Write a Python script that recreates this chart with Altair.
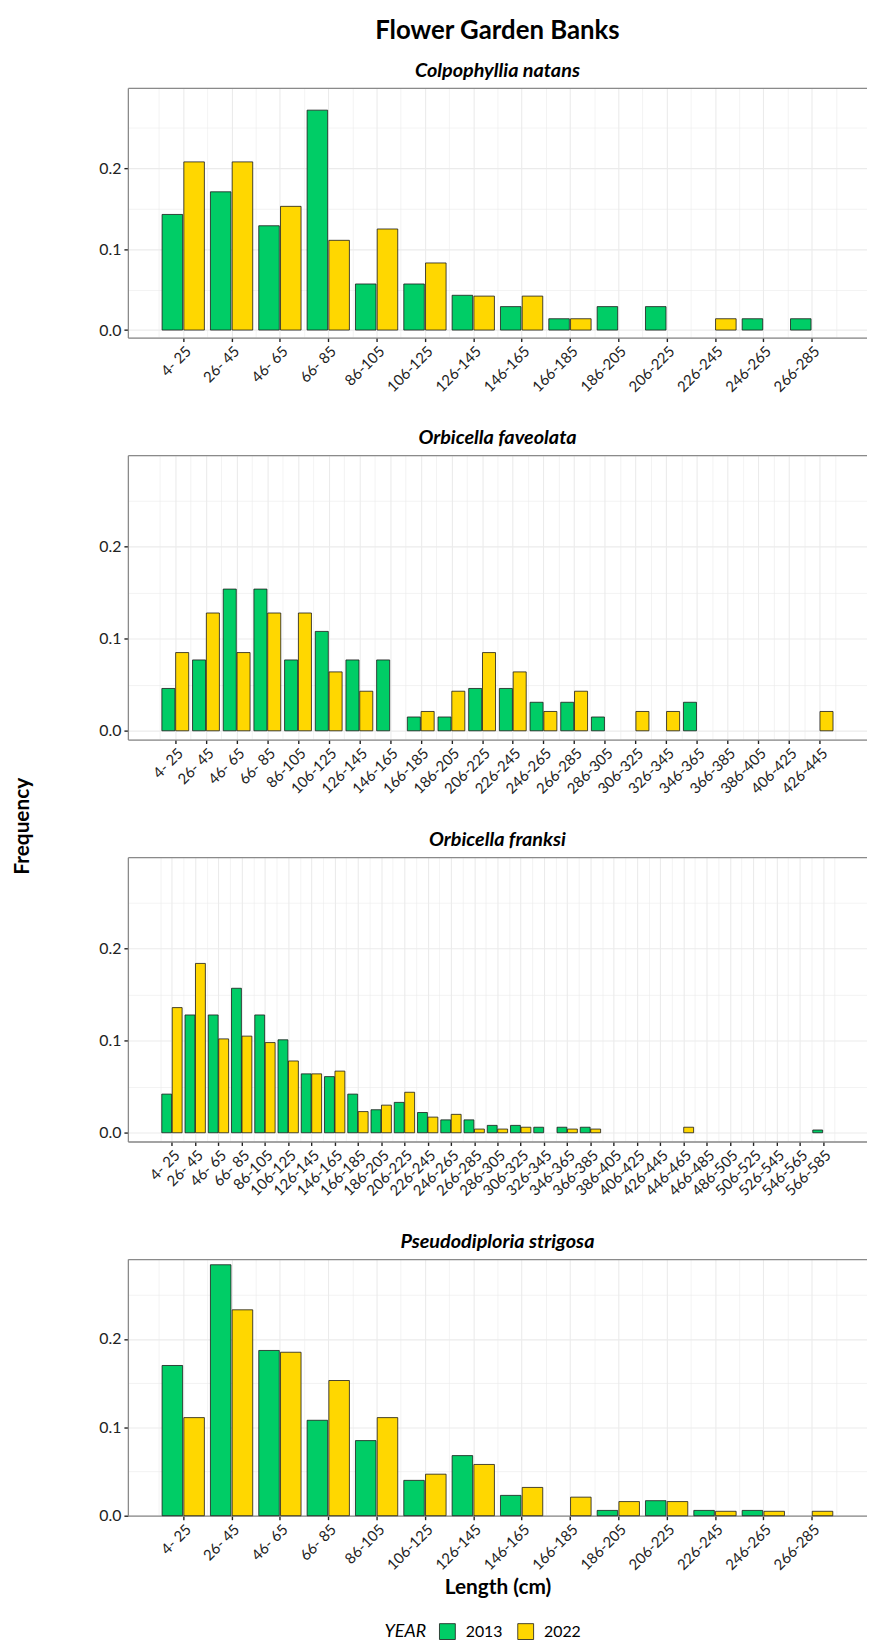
import altair as alt
import pandas as pd

FONT = "Lato"
GREEN = "#00CD66"
GOLD = "#FFD700"
BORDER = "#8a8a8a"
GRID = "#ebebeb"

main_title = "Flower Garden Banks"
species = ["Colpophyllia natans", "Orbicella faveolata", "Orbicella franksi", "Pseudodiploria strigosa"]
years = ["2013", "2022"]

size_classes = ["4- 25", "26- 45", "46- 65", "66- 85", "86-105", "106-125", "126-145", "146-165",
                "166-185", "186-205", "206-225", "226-245", "246-265", "266-285", "286-305", "306-325",
                "326-345", "346-365", "366-385", "386-405", "406-425", "426-445", "446-465", "466-485",
                "486-505", "506-525", "526-545", "546-565", "566-585"]

# Colpophyllia natans (14 classes)
cn_2013 = [0.143, 0.171, 0.129, 0.272, 0.057, 0.057, 0.043, 0.029, 0.014, 0.029, 0.029, 0.0, 0.014, 0.014]
cn_2022 = [0.208, 0.208, 0.153, 0.111, 0.125, 0.083, 0.042, 0.042, 0.014, 0.0, 0.0, 0.014, 0.0, 0.0]
# Orbicella faveolata (22 classes)
of_2013 = [0.046, 0.077, 0.154, 0.154, 0.077, 0.108, 0.077, 0.077, 0.015, 0.015, 0.046, 0.046, 0.031,
           0.031, 0.015, 0.0, 0.0, 0.031, 0.0, 0.0, 0.0, 0.0]
of_2022 = [0.085, 0.128, 0.085, 0.128, 0.128, 0.064, 0.043, 0.0, 0.021, 0.043, 0.085, 0.064, 0.021,
           0.043, 0.0, 0.021, 0.021, 0.0, 0.0, 0.0, 0.0, 0.021]
# Orbicella franksi (29 classes)
ofr_2013 = [0.042, 0.128, 0.128, 0.157, 0.128, 0.101, 0.064, 0.061, 0.042, 0.025, 0.033, 0.022, 0.014,
            0.014, 0.008, 0.008, 0.006, 0.006, 0.006, 0.0, 0.0, 0.0, 0.0, 0.0, 0.0, 0.0, 0.0, 0.0, 0.003]
ofr_2022 = [0.136, 0.184, 0.102, 0.105, 0.098, 0.078, 0.064, 0.067, 0.023, 0.030, 0.044, 0.017, 0.020,
            0.004, 0.004, 0.006, 0.0, 0.004, 0.004, 0.0, 0.0, 0.0, 0.006, 0.0, 0.0, 0.0, 0.0, 0.0, 0.0]
# Pseudodiploria strigosa (14 classes)
ps_2013 = [0.170, 0.284, 0.187, 0.108, 0.085, 0.040, 0.068, 0.023, 0.0, 0.006, 0.017, 0.006, 0.006, 0.0]
ps_2022 = [0.111, 0.233, 0.185, 0.153, 0.111, 0.047, 0.058, 0.032, 0.021, 0.016, 0.016, 0.005, 0.005, 0.005]

panels = [
    (species[0], 14, cn_2013, cn_2022, 252, [-0.0093, 0.2995]),
    (species[1], 22, of_2013, of_2022, 287, [-0.0095, 0.2995]),
    (species[2], 29, ofr_2013, ofr_2022, 287, [-0.0095, 0.2995]),
    (species[3], 14, ps_2013, ps_2022, 259, [0.0, 0.2904]),
]

W = 746


def make_panel(k, name, n, v13, v22, h, ydom):
    labels = size_classes[:n]
    rows = []
    for i in range(1, n + 1):
        a, b = v13[i - 1], v22[i - 1]
        if a > 0:
            rows.append(dict(cls=labels[i - 1], year=years[0], freq=a, x0=i - 0.4375, x1=i - 0.0125))
        if b > 0:
            rows.append(dict(cls=labels[i - 1], year=years[1], freq=b, x0=i + 0.0125, x1=i + 0.4375))
    df = pd.DataFrame(rows)
    span = n - 1 + 0.9
    lo = 0.55 - 0.05 * span
    hi = n + 0.45 + 0.05 * span
    xvals = [j / 2 for j in range(1, 2 * n + 2)]
    lab_js = "[" + ",".join("'" + s + "'" for s in labels) + "]"
    last = k == 3
    xaxis = alt.Axis(
        values=xvals,
        labelExpr="datum.value % 1 == 0 ? " + lab_js + "[datum.value - 1] : ''",
        labelAngle=-45, labelAlign="right", labelBaseline="top",
        labelFont=FONT, labelFontSize=15, labelColor="#222", labelPadding=2,
        labelOverlap=False, labelFlush=False,
        tickColor="#222", tickSize=4, tickWidth=1.4,
        tickOpacity={"condition": {"test": "datum.value % 1 != 0", "value": 0}, "value": 1},
        grid=True, gridColor=GRID,
        gridWidth={"condition": {"test": "datum.value % 1 != 0", "value": 0.6}, "value": 1.1},
        domainColor=BORDER, domainWidth=1.3,
        title="Length (cm)" if last else None,
        titleFont=FONT, titleFontSize=21, titleFontWeight="bold", titleColor="black",
        titleBaseline="alphabetic", titleY=79,
    )
    top_test = "datum.value > 0.28"
    minor_test = "abs(datum.value * 10 - round(datum.value * 10)) > 0.01"
    hide_test = "(" + top_test + ") || (" + minor_test + ")"
    yvals = [0, 0.05, 0.1, 0.15, 0.2, 0.25, ydom[1]]
    yaxis_kw = dict(
        values=yvals,
        labelExpr=hide_test + " ? '' : format(datum.value, '.1f')",
        labelFont=FONT, labelFontSize=16, labelColor="#222", labelPadding=3,
        tickColor="#222", tickSize=4, tickWidth=1.4,
        tickOpacity={"condition": {"test": hide_test, "value": 0}, "value": 1},
        grid=True,
        gridColor={"condition": {"test": top_test, "value": BORDER}, "value": GRID},
        gridWidth={"condition": [{"test": top_test, "value": 1.3}, {"test": minor_test, "value": 0.6}],
                   "value": 1.1},
        domainColor=BORDER, domainWidth=1.3,
    )
    if k == 1:
        yaxis = alt.Axis(title="Frequency", titleFont=FONT, titleFontSize=21, titleFontWeight="bold",
                         titleColor="black", titleAngle=270, titleAlign="center",
                         titleBaseline="alphabetic", titleX=-100, titleY=374, **yaxis_kw)
    else:
        yaxis = alt.Axis(title=None, **yaxis_kw)

    if last:
        legend = alt.Legend(orient="none", legendX=259, legendY=367, direction="horizontal",
                            title="YEAR", titleOrient="left", titleFont=FONT, titleFontSize=18,
                            titleFontStyle="italic", titleFontWeight="normal", titleColor="black",
                            titlePadding=12, labelFont=FONT, labelFontSize=16, labelColor="black",
                            symbolType="square", symbolSize=256, symbolStrokeColor="#1a1a1a",
                            symbolStrokeWidth=0.8, labelOffset=10, columnPadding=12)
    else:
        legend = None

    if k == 0:
        title = alt.TitleParams(text=main_title, subtitle=name, anchor="middle", frame="group",
                                font=FONT, fontSize=26, fontWeight="bold", color="black",
                                subtitleFont=FONT, subtitleFontSize=20, subtitleFontStyle="italic",
                                subtitleFontWeight="bold", subtitleColor="black",
                                subtitlePadding=17, offset=7)
    else:
        title = alt.TitleParams(text=name, anchor="middle", frame="group", font=FONT, fontSize=20,
                                fontStyle="italic", fontWeight="bold", color="black", offset=7)

    chart = alt.Chart(df).mark_bar(stroke="#1a1a1a", strokeWidth=0.8).encode(
        x=alt.X("x0:Q", scale=alt.Scale(domain=[lo, hi], nice=False, zero=False), axis=xaxis),
        x2="x1:Q",
        y=alt.Y("freq:Q", stack=None, scale=alt.Scale(domain=ydom, nice=False, zero=False), axis=yaxis),
        y2=alt.datum(0),
        color=alt.Color("year:N", scale=alt.Scale(domain=years, range=[GREEN, GOLD]), legend=legend),
        tooltip=["cls:N", "year:N", "freq:Q"],
    ).properties(width=W, height=h, title=title)
    return chart


charts = [make_panel(k, *p) for k, p in enumerate(panels)]

chart = alt.vconcat(*charts, spacing=118.7, bounds="flush").resolve_scale(color="independent").properties(
    autosize=alt.AutoSizeParams(type="none"),
    padding={"left": 121, "top": 73, "right": 0, "bottom": 1570},
).configure_view(stroke=None).configure(background="white")

chart.save("out.html", embed_options={"renderer": "svg", "actions": False})
